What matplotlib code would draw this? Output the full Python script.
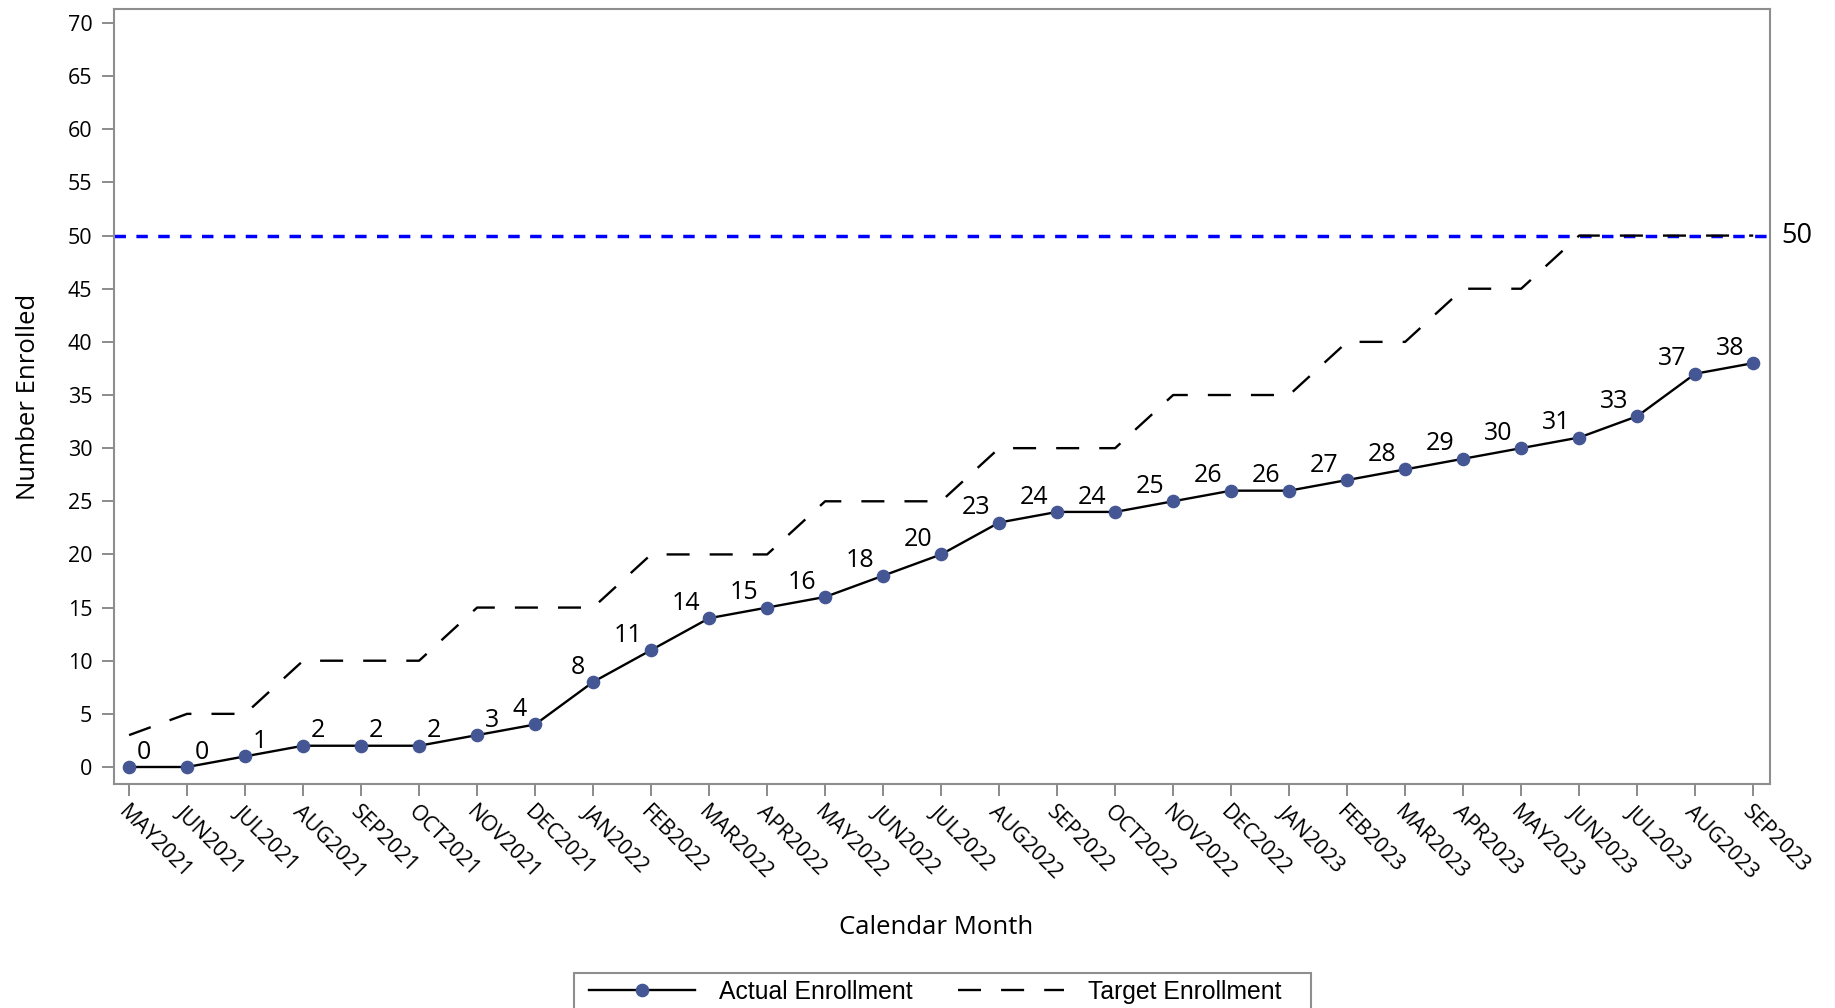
import matplotlib
matplotlib.use("Agg")
import matplotlib.pyplot as plt
from matplotlib.patches import Rectangle
from matplotlib.lines import Line2D
import matplotlib.transforms as mtransforms

months = ["MAY2021", "JUN2021", "JUL2021", "AUG2021", "SEP2021", "OCT2021", "NOV2021",
          "DEC2021", "JAN2022", "FEB2022", "MAR2022", "APR2022", "MAY2022", "JUN2022",
          "JUL2022", "AUG2022", "SEP2022", "OCT2022", "NOV2022", "DEC2022", "JAN2023",
          "FEB2023", "MAR2023", "APR2023", "MAY2023", "JUN2023", "JUL2023", "AUG2023",
          "SEP2023"]
actual = [0, 0, 1, 2, 2, 2, 3, 4, 8, 11, 14, 15, 16, 18, 20, 23, 24, 24, 25, 26, 26,
          27, 28, 29, 30, 31, 33, 37, 38]
target = [3, 5, 5, 10, 10, 10, 15, 15, 15, 20, 20, 20, 25, 25, 25, 30, 30, 30, 35, 35,
          35, 40, 40, 45, 45, 50, 50, 50, 50]
goal = 50
yticks = list(range(0, 71, 5))
right_label_count = 7  # first labels placed to the right of the point

FONT = ["Open Sans", "DejaVu Sans"]
plt.rcParams['font.family'] = FONT

W, H = 1835, 1008
fig = plt.figure(figsize=(W / 100, H / 100), dpi=100)
ax = fig.add_axes([114 / W, 1 - 784 / H, (1770 - 114) / W, (784 - 9) / H])

x = list(range(len(months)))
MARK = "#445694"
GRAY = "#8E8E8E"

ax.axhline(goal, color="#0000FF", lw=2.5, dashes=(3.3, 3.0), dash_capstyle="butt", zorder=2)
ax.plot(x, target, color="black", lw=1.7, dashes=(9.75, 8.5), zorder=3)
ax.plot(x, actual, color="black", lw=1.7, marker="o", markersize=8.8,
        markerfacecolor=MARK, markeredgecolor=MARK, zorder=4)

for i, v in enumerate(actual):
    if i < right_label_count:
        ax.annotate(str(v), (i, v), xytext=(5.5, 6), textcoords="offset points",
                    ha="left", va="baseline", fontsize=18, color="black", zorder=5)
    else:
        ax.annotate(str(v), (i, v), xytext=(-6, 6), textcoords="offset points",
                    ha="right", va="baseline", fontsize=18, color="black", zorder=5)

trans = mtransforms.blended_transform_factory(ax.transAxes, ax.transData)
ax.annotate(str(goal), (1.0, goal), xycoords=trans, xytext=(8, 0), textcoords="offset points",
            ha="left", va="center", fontsize=19.5, color="black", annotation_clip=False)

ax.set_xlim(-0.26, 28.29)
ax.set_ylim(-1.6, 71.32)
ax.set_yticks(yticks)
ax.set_xticks(x)
ax.set_xticklabels(months)

for s in ax.spines.values():
    s.set_color(GRAY)
    s.set_linewidth(1.5)
ax.tick_params(axis="both", which="both", direction="out", length=8.6, width=1.44,
               color=GRAY, labelsize=15.5, labelcolor="black")
ax.tick_params(axis="y", pad=7)
ax.tick_params(axis="x", pad=4)
for lab in ax.get_xticklabels():
    lab.set_rotation(-45)
    lab.set_ha("left")
    lab.set_va("top")
    lab.set_rotation_mode("anchor")

ax.set_xlabel("Calendar Month", fontsize=18.5)
ax.set_ylabel("Number Enrolled", fontsize=18.5)
ax.xaxis.label.set_va("center")
ax.yaxis.label.set_va("center")
ax.xaxis.set_label_coords((936.5 - 114) / 1656, -(927 - 784) / 775)
ax.yaxis.set_label_coords((29 - 114) / 1656, 0.5)

# legend
fig.patches.append(Rectangle((574 / W, 1 - 1012 / H), (1311 - 574) / W, (1012 - 973) / H,
                             transform=fig.transFigure, facecolor="white",
                             edgecolor=GRAY, lw=1.5, zorder=1))
h1 = Line2D([], [], color="black", lw=1.7, marker="o", markersize=8.8,
            markerfacecolor=MARK, markeredgecolor=MARK)
h2 = Line2D([], [], color="black", lw=1.7, dashes=(9.75, 8.5))
leg = fig.legend([h1, h2], ["Actual Enrollment", "Target Enrollment"], ncol=2,
                 loc="center", bbox_to_anchor=(935 / W, 1 - 992 / H),
                 frameon=False, handlelength=4.3, handletextpad=0.97,
                 columnspacing=1.82, borderpad=0,
                 prop={"family": ["Liberation Sans", "DejaVu Sans"], "size": 17.8})

fig.savefig("out.png", dpi=100)
